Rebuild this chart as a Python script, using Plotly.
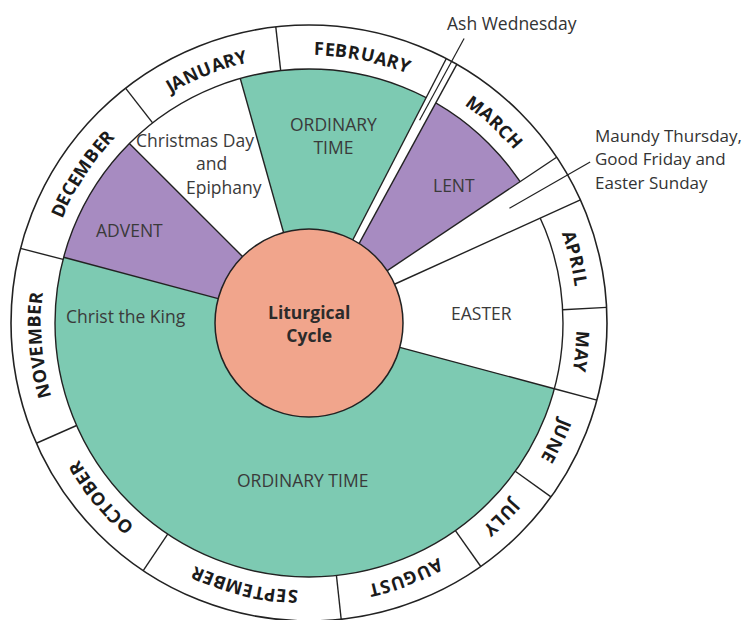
import math
import plotly.graph_objects as go

# ---------------- data ----------------
month_names = ["JANUARY", "FEBRUARY", "MARCH", "APRIL", "MAY", "JUNE", "JULY",
               "AUGUST", "SEPTEMBER", "OCTOBER", "NOVEMBER", "DECEMBER"]
# angles in degrees, clockwise from 12 o'clock
month_start = [322.0, 353.6, 29.0, 65.6, 87.0, 105.0, 125.7, 144.8, 173.8, 213.8, 246.2, 284.5]
month_end = [353.6, 29.0, 56.2, 87.0, 105.0, 125.7, 144.8, 173.8, 213.8, 246.2, 284.5, 322.0]

season_names = ["ORDINARY TIME", "LENT", "EASTER", "ORDINARY TIME", "ADVENT", "Christmas Day and Epiphany"]
season_start = [344.3, 29.0, 65.6, 105.0, 285.0, 315.0]
season_end = [29.0, 56.2, 105.0, 285.0, 315.0, 344.3]
season_kind = ["ordinary", "penitential", "feast", "ordinary", "penitential", "feast"]

slit_names = ["Ash Wednesday", "Maundy Thursday, Good Friday and Easter Sunday"]
slit_inner_angle = [30.0, 56.2]   # Ash Wednesday: narrow strip; Holy Week: wedge
slit_outer_angle = [28.6, 65.6]
leader_angle = [28.6, 60.2]

# ---------------- layout constants ----------------
W, H = 749, 620
CX, CY = 309.0, 323.0
R_HUB, R_IN, R_OUT = 94.0, 254.0, 298.0
R_TEXT = 276.0
LINE = "#222222"
LW = 1.4
KIND_COLOR = {"ordinary": "#7DCAB2", "penitential": "#A78BC1", "feast": "#FFFFFF"}
HUB_COLOR = "#F1A58C"
TXT = "#3a3a3a"


def pt(r, a):
    t = math.radians(a)
    return CX + r * math.sin(t), CY - r * math.cos(t)


def arc_pts(r, a0, a1, step=0.5):
    if a1 < a0:
        a1 += 360.0
    n = max(2, int(math.ceil((a1 - a0) / step)) + 1)
    return [pt(r, a0 + (a1 - a0) * i / (n - 1)) for i in range(n)]


def path_of(points, close=True):
    s = "M " + " L ".join(f"{x:.2f},{y:.2f}" for x, y in points)
    return s + (" Z" if close else "")


shapes = []


def add_fill(points, color):
    shapes.append(dict(type="path", path=path_of(points), fillcolor=color,
                       line=dict(width=0), layer="above"))


def add_line(points, width=LW):
    shapes.append(dict(type="path", path=path_of(points, close=False),
                       line=dict(color=LINE, width=width), layer="above"))


def add_circle(r, fill=None, width=LW):
    d = dict(type="circle", x0=CX - r, x1=CX + r, y0=CY - r, y1=CY + r,
             line=dict(color=LINE, width=width), layer="above")
    if fill:
        d["fillcolor"] = fill
    shapes.append(d)


# season sectors
for s, e, k in zip(season_start, season_end, season_kind):
    pts = arc_pts(R_IN, s, e) + arc_pts(R_HUB - 4, s, e)[::-1]
    add_fill(pts, KIND_COLOR[k])

# season boundaries
for s in season_start:
    if s in season_end:
        add_line([pt(R_HUB, s), pt(R_IN, s)])

# month ring
add_circle(R_IN)
for s in month_start:
    if s in month_end:
        add_line([pt(R_IN, s), pt(R_OUT, s)])

# slit 1: Ash Wednesday strip
p0 = pt(R_HUB, slit_inner_angle[0])
p1 = pt(R_OUT, slit_outer_angle[0])
dx, dy = p1[0] - p0[0], p1[1] - p0[1]
L = math.hypot(dx, dy)
ux, uy = dx / L, dy / L
nx, ny = -uy, ux
hw0, hw1 = 3.5, 6.0
q0 = (p0[0] - ux * 10, p0[1] - uy * 10)
left = [(q0[0] - nx * hw0, q0[1] - ny * hw0), (p1[0] - nx * hw1, p1[1] - ny * hw1)]
right = [(q0[0] + nx * hw0, q0[1] + ny * hw0), (p1[0] + nx * hw1, p1[1] + ny * hw1)]
add_fill(left + right[::-1], "#FFFFFF")
add_line(left)
add_line(right)

# slit 2: Holy Week wedge
a0, a1 = slit_inner_angle[1], slit_outer_angle[1]
add_fill(arc_pts(R_OUT, a0, a1) + arc_pts(R_HUB - 4, a0, a1)[::-1], "#FFFFFF")
add_line([pt(R_HUB - 2, a0), pt(R_OUT, a0)])
add_line([pt(R_HUB - 2, a1), pt(R_OUT, a1)])

# outer circle
add_circle(R_OUT, width=1.6)

# hub
add_circle(R_HUB, fill=HUB_COLOR, width=1.5)

# leader lines
for a in leader_angle:
    add_line([pt(231, a), pt(324, a)], width=1.2)

annotations = []


def label(x, y, text, size=17.5, color=TXT, angle=0, xanchor="center", bold=False, family="Open Sans"):
    t = f"<b>{text}</b>" if bold else text
    annotations.append(dict(x=x, y=y, xref="x", yref="y", text=t, showarrow=False,
                            textangle=angle, xanchor=xanchor, yanchor="middle",
                            font=dict(family=family, size=size, color=color)))


# month names along the arc, letter by letter
CW = {"A": .69, "B": .70, "C": .63, "D": .75, "E": .56, "F": .55, "G": .72, "H": .79,
      "I": .37, "J": .36, "K": .68, "L": .57, "M": .96, "N": .82, "O": .80, "P": .66,
      "R": .68, "S": .58, "T": .59, "U": .78, "V": .67, "Y": .61}
MSIZE = 18
TRACK = 0.6
for name, s, e in zip(month_names, month_start, month_end):
    ee = e + 360 if e < s else e
    mid = (s + ee) / 2.0
    widths = [CW[c] * MSIZE for c in name]
    total = sum(widths) + TRACK * (len(name) - 1)
    pos = -total / 2.0
    for c, w in zip(name, widths):
        centre = pos + w / 2.0
        a = mid + math.degrees(centre / R_TEXT)
        x, y = pt(R_TEXT - 1, a)
        label(x, y, c, size=MSIZE, color="#1b1b1b", angle=a, bold=True)
        pos += w + TRACK

# season labels
label(333, 135.5, "ORDINARY<br>TIME")
label(454, 185, "LENT")
label(481, 313, "EASTER")
label(302, 480, "ORDINARY TIME")
label(129, 230, "ADVENT")
label(126, 316, "Christ the King")
label(195, 140, "Christmas Day")
label(211, 163, "and")
label(224, 187, "Epiphany")

# hub
label(CX, CY, "Liturgical<br>Cycle", size=17.5, color="#2b2b2b", bold=True)

# slit labels
label(512, 23, "Ash Wednesday", color="#333333")
label(593, 135, "Maundy Thursday,", size=17, color="#333333", xanchor="left")
label(593, 158.5, "Good Friday and", size=17, color="#333333", xanchor="left")
label(593, 182, "Easter Sunday", size=17, color="#333333", xanchor="left")

fig = go.Figure()
fig.add_trace(go.Scatter(x=[0, W], y=[0, H], mode="markers", marker=dict(opacity=0),
                         hoverinfo="skip", showlegend=False))
fig.update_layout(
    width=W, height=H, margin=dict(l=0, r=0, t=0, b=0),
    paper_bgcolor="white", plot_bgcolor="white",
    xaxis=dict(range=[0, W], visible=False, fixedrange=True),
    yaxis=dict(range=[H, 0], visible=False, fixedrange=True),
    shapes=shapes, annotations=annotations, showlegend=False,
)
fig.write_html("out.html", config={"displayModeBar": False},
               post_script="document.body.style.margin='0';document.body.style.overflow='hidden';")
